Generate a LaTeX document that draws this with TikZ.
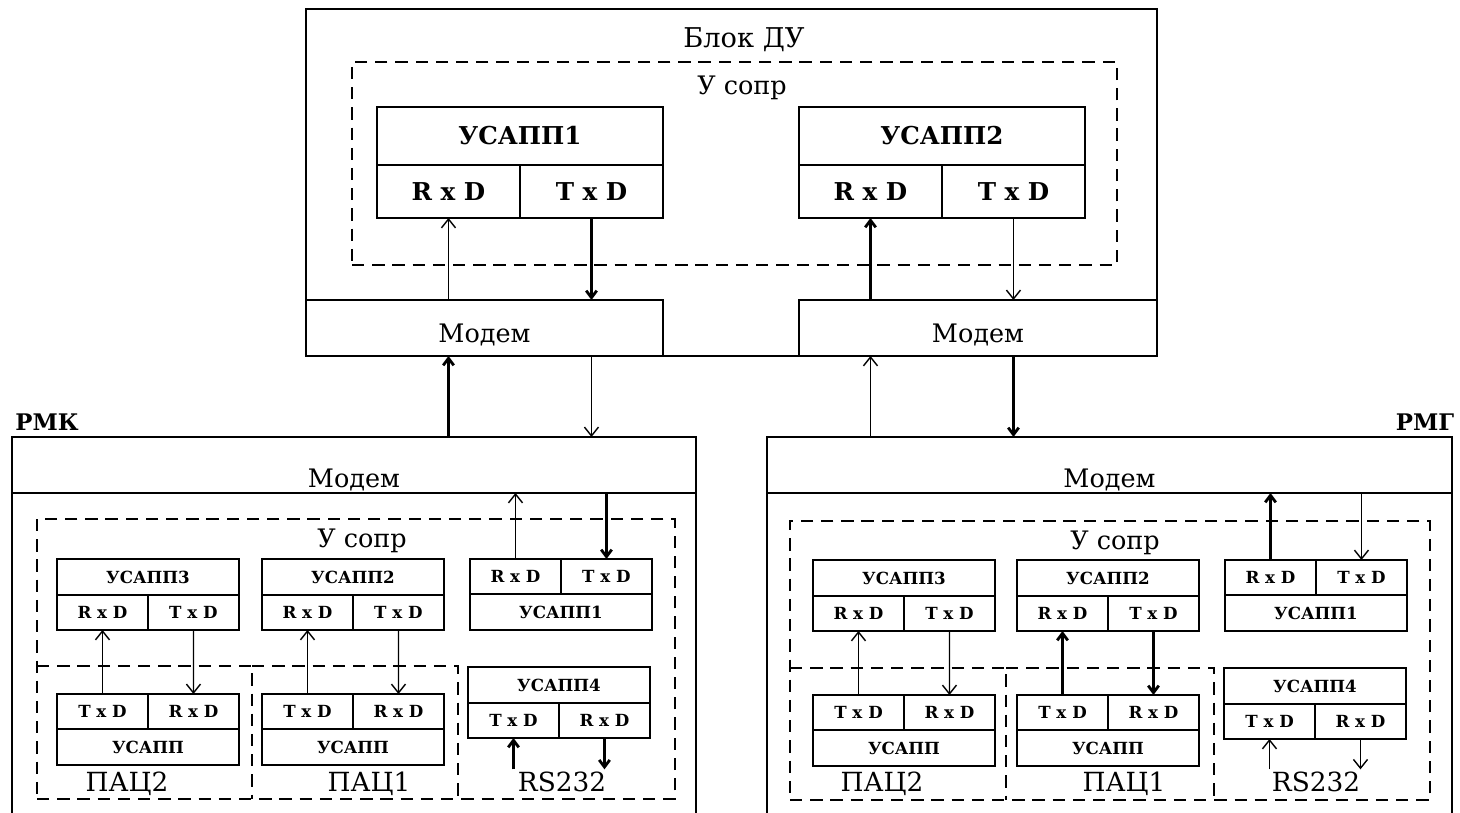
\documentclass[tikz,border=0pt]{standalone}
\usepackage{fontspec}
\setmainfont{DejaVu Serif}
\usepackage{tikz}
\usetikzlibrary{positioning, arrows.meta}

\begin{document}
\begin{tikzpicture}[
  x=0.02cm, y=-0.02cm,
  cell/.style={draw, line width=1.1pt, inner sep=0pt, outer sep=0pt},
  frame/.style={draw, line width=1.4pt, inner sep=0pt, outer sep=0pt, anchor=north west},
  modem/.style={frame, minimum height=1.12cm, text depth=0.08cm, text height=0.68cm,
    font=\fontsize{14.5}{16}\selectfont},
  dashline/.style={line width=1.2pt, dash pattern=on 7pt off 4.5pt},
  dashbox/.style={draw, dashline, inner sep=0pt, outer sep=0pt, anchor=north west},
  area/.style={inner sep=0pt, outer sep=0pt, anchor=north west},
  bighead/.style={cell, minimum width=5.72cm, minimum height=1.16cm,
    font=\bfseries\fontsize{14}{16}\selectfont},
  bigport/.style={cell, minimum width=2.86cm, minimum height=1.06cm,
    font=\bfseries\fontsize{14}{16}\selectfont},
  head/.style={cell, minimum width=3.64cm, minimum height=0.72cm,
    font=\bfseries\fontsize{9.5}{11}\selectfont},
  port/.style={cell, minimum width=1.82cm, minimum height=0.70cm,
    font=\bfseries\fontsize{9.5}{11}\selectfont},
  title/.style={font=\fontsize{14.5}{16}\selectfont},
  side/.style={font=\bfseries\fontsize{13}{15}\selectfont},
  group/.style={anchor=base, inner sep=1pt, font=\fontsize{15}{17}\selectfont},
  arrow/.style={-{Straight Barb[length=5pt, width=8pt]}, line width=0.8pt},
  arrowthick/.style={-{Straight Barb[length=4pt, width=6pt]}, line width=1.6pt},
]
  \path[use as bounding box, fill=white] (0,0) rectangle (1460,813);
  \clip (0,0) rectangle (1460,813);

  \node[frame, minimum width=17.02cm, minimum height=6.94cm] (du) at (306,9) {};
  \node[title, font=\fontsize{15.5}{17}\selectfont] (dutitle) at (744,40) {Блок ДУ};
  \node[dashbox, line width=1.4pt, minimum width=15.3cm, minimum height=4.06cm] (dusopr) at (352,62) {};
  \node[title] (dusoprtitle) at (742,88) {У сопр};
  \node[bighead, anchor=north west] (dua) at (377,107) {УСАПП1};
  \node[bigport, below right=0cm of dua.south west] (duarx) {R x D};
  \node[bigport, below left=0cm of dua.south east] (duatx) {T x D};
  \node[bighead, anchor=north west] (dub) at (799,107) {УСАПП2};
  \node[bigport, below right=0cm of dub.south west] (dubrx) {R x D};
  \node[bigport, below left=0cm of dub.south east] (dubtx) {T x D};
  \node[modem, minimum width=7.14cm] (dum1) at (306,300) {Модем};
  \node[modem, minimum width=7.16cm] (dum2) at (799,300) {Модем};

  \draw[arrow] (dum1.north -| duarx) -- (duarx);
  \draw[arrowthick] (duatx) -- (dum1.north -| duatx);
  \draw[arrowthick] (dum2.north -| dubrx) -- (dubrx);
  \draw[arrow] (dubtx) -- (dum2.north -| dubtx);

  \node[side] (rmktitle) at (47,422) {РМК};
  \node[frame, minimum width=13.68cm, minimum height=8cm] (rmk) at (12,437) {};
  \node[modem, text height=1.0cm, minimum width=13.68cm] (rmkm) at (12,437) {Модем};
  \node[dashbox, minimum width=12.76cm, minimum height=5.6cm] (rmksopr) at (37,519) {};
  \node[title] (rmksoprtitle) at (362,541) {У сопр};
  \node[head, anchor=north west] (rmk3) at (57,559) {УСАПП3};
  \node[port, below right=0cm of rmk3.south west] (rmk3rx) {R x D};
  \node[port, below left=0cm of rmk3.south east] (rmk3tx) {T x D};
  \node[head, anchor=north west] (rmk2) at (262,559) {УСАПП2};
  \node[port, below right=0cm of rmk2.south west] (rmk2rx) {R x D};
  \node[port, below left=0cm of rmk2.south east] (rmk2tx) {T x D};
  \node[port, anchor=north west] (rmk1rx) at (470,559) {R x D};
  \node[port, right=0cm of rmk1rx] (rmk1tx) {T x D};
  \node[head, below right=0cm of rmk1rx.south west] (rmk1) {УСАПП1};
  \node[area, minimum width=4.3cm, minimum height=2.66cm] (rmkpac2) at (37,666) {};
  \node[area, minimum width=4.12cm, minimum height=2.66cm] (rmkpac1) at (252,666) {};
  \draw[dashline] (rmkpac2.north west) -- (rmkpac2.north east) -- (rmkpac2.south east);
  \draw[dashline] (rmkpac1.north west) -- (rmkpac1.north east) -- (rmkpac1.south east);
  \node[port, anchor=north west] (rmkp2tx) at (57,694) {T x D};
  \node[port, right=0cm of rmkp2tx] (rmkp2rx) {R x D};
  \node[head, below right=0cm of rmkp2tx.south west] (rmkp2) {УСАПП};
  \node[port, anchor=north west] (rmkp1tx) at (262,694) {T x D};
  \node[port, right=0cm of rmkp1tx] (rmkp1rx) {R x D};
  \node[head, below right=0cm of rmkp1tx.south west] (rmkp1) {УСАПП};
  \node[head, anchor=north west] (rmk4) at (468,667) {УСАПП4};
  \node[port, below right=0cm of rmk4.south west] (rmk4tx) {T x D};
  \node[port, below left=0cm of rmk4.south east] (rmk4rx) {R x D};
  \node[group] (rmkpac2title) at (127,791) {ПАЦ2};
  \node[group] (rmkpac1title) at (369,791) {ПАЦ1};
  \node[group] (rmkrs) at (562,791) {RS232};

  \draw[arrow] (rmkp2tx) -- (rmk3rx);
  \draw[arrow] (rmk3tx) -- (rmkp2rx);
  \draw[arrow] (rmkp1tx) -- (rmk2rx);
  \draw[arrow] (rmk2tx) -- (rmkp1rx);
  \draw[arrow] (rmk1rx) -- (rmkm.south -| rmk1rx);
  \draw[arrowthick] (rmkm.south -| rmk1tx) -- (rmk1tx);
  \draw[arrowthick] (rmkrs.north -| rmk4tx) -- (rmk4tx);
  \draw[arrowthick] (rmk4rx) -- (rmkrs.north -| rmk4rx);

  \node[side] (rmgtitle) at (1425,422) {РМГ};
  \node[frame, minimum width=13.7cm, minimum height=8cm] (rmg) at (767,437) {};
  \node[modem, text height=1.0cm, minimum width=13.7cm] (rmgm) at (767,437) {Модем};
  \node[dashbox, line width=1.4pt, minimum width=12.8cm, minimum height=5.58cm] (rmgsopr) at (790,521) {};
  \node[title] (rmgsoprtitle) at (1115,543) {У сопр};
  \node[head, anchor=north west] (rmg3) at (813,560) {УСАПП3};
  \node[port, below right=0cm of rmg3.south west] (rmg3rx) {R x D};
  \node[port, below left=0cm of rmg3.south east] (rmg3tx) {T x D};
  \node[head, anchor=north west] (rmg2) at (1017,560) {УСАПП2};
  \node[port, below right=0cm of rmg2.south west] (rmg2rx) {R x D};
  \node[port, below left=0cm of rmg2.south east] (rmg2tx) {T x D};
  \node[port, anchor=north west] (rmg1rx) at (1225,560) {R x D};
  \node[port, right=0cm of rmg1rx] (rmg1tx) {T x D};
  \node[head, below right=0cm of rmg1rx.south west] (rmg1) {УСАПП1};
  \node[area, minimum width=4.32cm, minimum height=2.64cm] (rmgpac2) at (790,668) {};
  \node[area, minimum width=4.16cm, minimum height=2.64cm] (rmgpac1) at (1006,668) {};
  \draw[dashline] (rmgpac2.north west) -- (rmgpac2.north east) -- (rmgpac2.south east);
  \draw[dashline] (rmgpac1.north west) -- (rmgpac1.north east) -- (rmgpac1.south east);
  \node[port, anchor=north west] (rmgp2tx) at (813,695) {T x D};
  \node[port, right=0cm of rmgp2tx] (rmgp2rx) {R x D};
  \node[head, below right=0cm of rmgp2tx.south west] (rmgp2) {УСАПП};
  \node[port, anchor=north west] (rmgp1tx) at (1017,695) {T x D};
  \node[port, right=0cm of rmgp1tx] (rmgp1rx) {R x D};
  \node[head, below right=0cm of rmgp1tx.south west] (rmgp1) {УСАПП};
  \node[head, anchor=north west] (rmg4) at (1224,668) {УСАПП4};
  \node[port, below right=0cm of rmg4.south west] (rmg4tx) {T x D};
  \node[port, below left=0cm of rmg4.south east] (rmg4rx) {R x D};
  \node[group] (rmgpac2title) at (882,791) {ПАЦ2};
  \node[group] (rmgpac1title) at (1124,791) {ПАЦ1};
  \node[group] (rmgrs) at (1316,791) {RS232};

  \draw[arrow] (rmgp2tx) -- (rmg3rx);
  \draw[arrow] (rmg3tx) -- (rmgp2rx);
  \draw[arrowthick] (rmgp1tx) -- (rmg2rx);
  \draw[arrowthick] (rmg2tx) -- (rmgp1rx);
  \draw[arrowthick] (rmg1rx) -- (rmgm.south -| rmg1rx);
  \draw[arrow] (rmgm.south -| rmg1tx) -- (rmg1tx);
  \draw[arrow] (rmgrs.north -| rmg4tx) -- (rmg4tx);
  \draw[arrow] (rmg4rx) -- (rmgrs.north -| rmg4rx);

  \draw[arrowthick] (rmkm.north -| duarx) -- (dum1.south -| duarx);
  \draw[arrow] (dum1.south -| duatx) -- (rmkm.north -| duatx);
  \draw[arrow] (rmgm.north -| dubrx) -- (dum2.south -| dubrx);
  \draw[arrowthick] (dum2.south -| dubtx) -- (rmgm.north -| dubtx);
\end{tikzpicture}
\end{document}
